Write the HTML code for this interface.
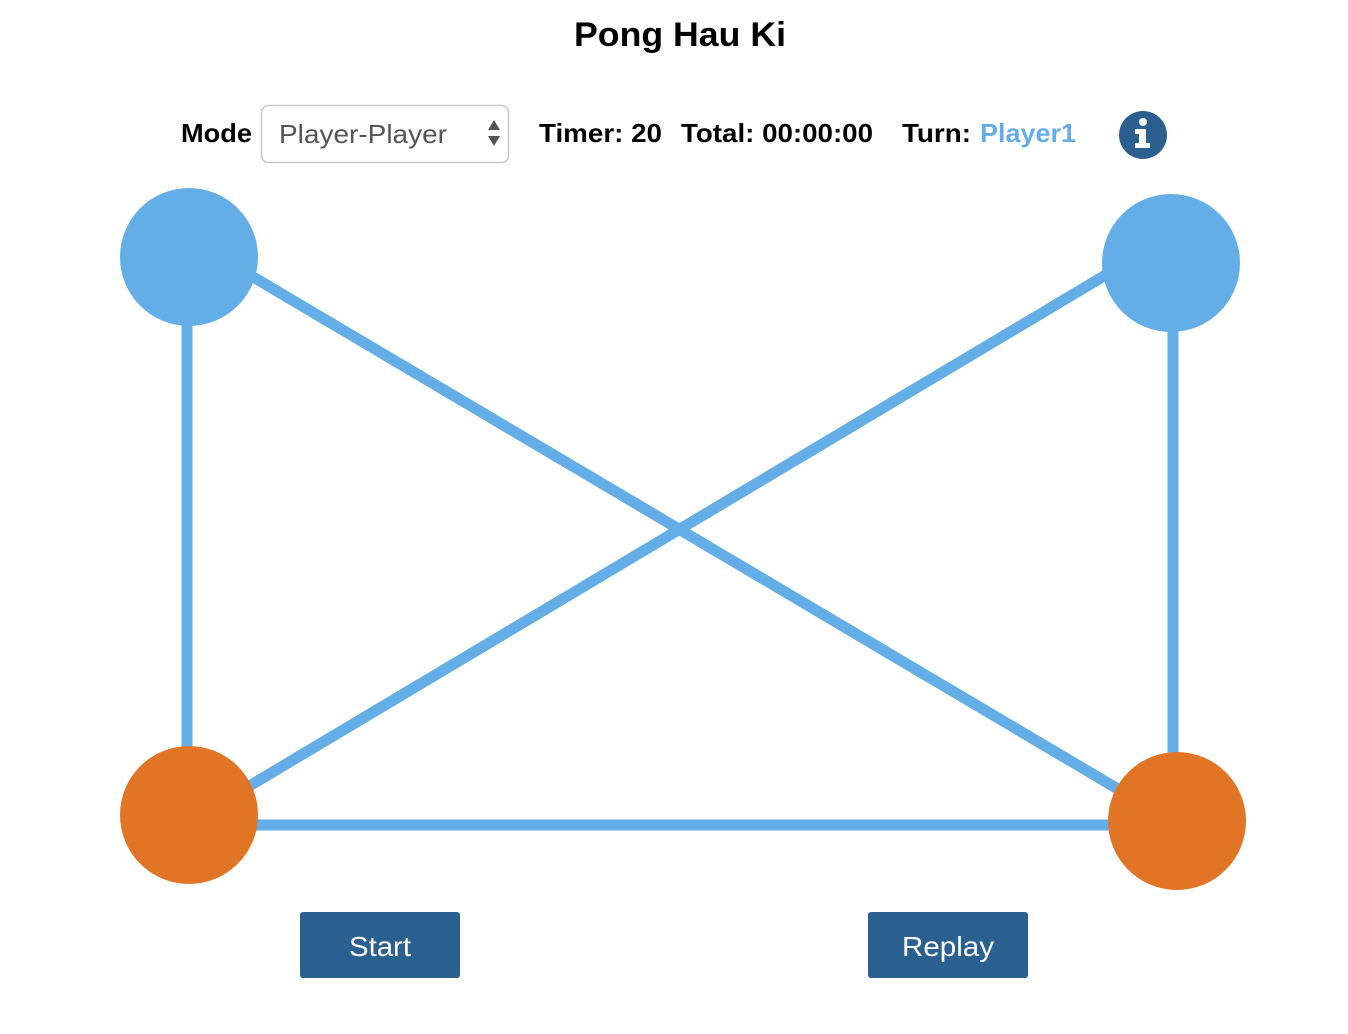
<!DOCTYPE html>
<html><head><meta charset="utf-8"><style>
html,body{margin:0;padding:0;background:#fff;width:1348px;height:1034px;overflow:hidden}
svg{display:block;font-family:"Liberation Sans",Arial,sans-serif}
</style></head><body>
<svg width="1348" height="1034" viewBox="0 0 1348 1034">
<text x="574" y="46" font-size="34" font-weight="bold" textLength="212" lengthAdjust="spacingAndGlyphs">Pong Hau Ki</text>
<text x="181" y="142" font-size="26" font-weight="bold" textLength="71" lengthAdjust="spacingAndGlyphs">Mode</text>
<g>
<rect x="261.5" y="105.5" width="247" height="57" rx="7" fill="#fff" stroke="#c8c8c8" stroke-width="1.5"/>
<text x="279" y="143" font-size="26" fill="#555" textLength="168" lengthAdjust="spacingAndGlyphs">Player-Player</text>
<path d="M488 130 L494 120 L500 130 Z M488 136 L494 146 L500 136 Z" fill="#555"/>
</g>
<text x="539" y="142" font-size="26" font-weight="bold" textLength="123" lengthAdjust="spacingAndGlyphs">Timer: 20</text>
<text x="681" y="142" font-size="26" font-weight="bold" textLength="192" lengthAdjust="spacingAndGlyphs">Total: 00:00:00</text>
<text x="902" y="142" font-size="26" font-weight="bold" textLength="69" lengthAdjust="spacingAndGlyphs">Turn:</text>
<text x="980" y="142" font-size="26" font-weight="bold" fill="#64aee8" textLength="96" lengthAdjust="spacingAndGlyphs">Player1</text>
<g>
<circle cx="1143" cy="135" r="24" fill="#2a5f8f"/>
<circle cx="1143" cy="122" r="4" fill="#fff"/>
<path d="M1135 129 h11 v14 h4 v5 h-15 v-5 h4 v-9 h-4 z" fill="#fff"/>
</g>
<g stroke="#64aee8" stroke-width="11" fill="none">
<line x1="187" y1="257" x2="187" y2="815"/>
<line x1="1173" y1="263" x2="1173" y2="821"/>
<line x1="189" y1="825" x2="1177" y2="825"/>
<line x1="189" y1="239" x2="1177" y2="824"/>
<line x1="1171" y1="236" x2="189" y2="822"/>
</g>
<circle cx="189" cy="257" r="69" fill="#64aee8"/>
<circle cx="1171" cy="263" r="69" fill="#64aee8"/>
<circle cx="189" cy="815" r="69" fill="#e27425"/>
<circle cx="1177" cy="821" r="69" fill="#e27425"/>
<g>
<rect x="300" y="912" width="160" height="66" rx="3" fill="#2a6090"/>
<text x="380" y="956" font-size="28" fill="#fff" text-anchor="middle" textLength="62" lengthAdjust="spacingAndGlyphs">Start</text>
</g>
<g>
<rect x="868" y="912" width="160" height="66" rx="3" fill="#2a6090"/>
<text x="948" y="956" font-size="28" fill="#fff" text-anchor="middle" textLength="92" lengthAdjust="spacingAndGlyphs">Replay</text>
</g>
</svg>
</body></html>
